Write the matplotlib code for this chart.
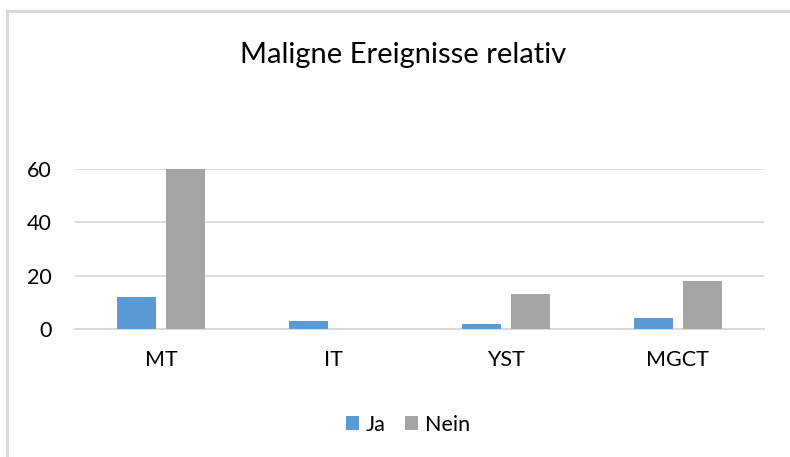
import matplotlib.pyplot as plt
import matplotlib.patches as patches
import numpy as np

plt.rcParams['font.family'] = ['Lato', 'DejaVu Sans']

kategorien = ['MT', 'IT', 'YST', 'MGCT']
ja = [12, 3, 2, 4]
nein = [60, 0, 13, 18]
y_ticks = [0, 20, 40, 60]

fig = plt.figure(figsize=(7.9, 4.57), dpi=100)

# grauer Rahmen wie im Excel-Diagramm
rahmen = patches.Rectangle((7 / 790, -0.1), 1.2, 1 - 11 / 457 + 0.1,
                           transform=fig.transFigure, fill=False,
                           edgecolor='#D9D9D9', linewidth=2.2)
fig.patches.append(rahmen)

ax = fig.add_axes([75 / 790, 1 - 329 / 457, 689 / 790, 160 / 457])

x = np.arange(len(kategorien))
breite = 0.227
versatz = 0.142
ax.bar(x - versatz, ja, breite, color='#5B9BD5', label='Ja', zorder=3)
ax.bar(x + versatz, nein, breite, color='#A5A5A5', label='Nein', zorder=3)

ax.set_xlim(-0.5, len(kategorien) - 0.5)
ax.set_ylim(0, 60)
ax.set_yticks(y_ticks)
ax.set_xticks(x)
ax.set_xticklabels(kategorien)
ax.tick_params(axis='y', length=0, pad=16.5, labelsize=15.5, labelcolor='#000000')
ax.tick_params(axis='x', length=0, pad=15, labelsize=15.5, labelcolor='#000000')
ax.grid(axis='y', color='#D9D9D9', linewidth=1.3, zorder=0)
for s in ['top', 'right', 'left']:
    ax.spines[s].set_visible(False)
ax.spines['bottom'].set_color('#D9D9D9')
ax.spines['bottom'].set_linewidth(1.3)

fig.text(403 / 790, 1 - 55 / 457, 'Maligne Ereignisse relativ',
         ha='center', va='center', fontsize=21)

fig.legend(loc='center', bbox_to_anchor=(408 / 790, 1 - 425 / 457), ncol=2,
           frameon=False, fontsize=15.5, handlelength=0.62, handleheight=0.62,
           handletextpad=0.3, columnspacing=0.9)

fig.savefig('out.png', dpi=100)
